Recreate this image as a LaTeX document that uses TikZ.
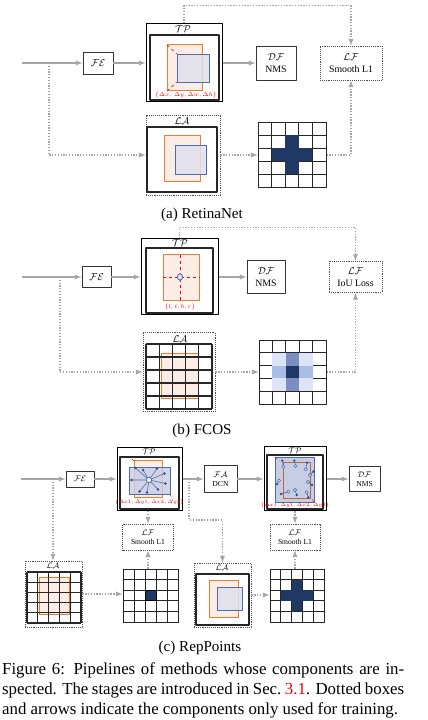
\documentclass[tikz,border=0pt]{standalone}
\usepackage{fontspec}
\setmainfont{Liberation Serif}
\definecolor{navy}{HTML}{1F3864}
\definecolor{heatmid}{HTML}{7A8EC2}
\definecolor{heatlight}{HTML}{A9BCE6}
\definecolor{heatpale}{HTML}{DCE4F5}
\definecolor{anchororange}{HTML}{ED7D31}
\definecolor{peach}{HTML}{FBEDE6}
\definecolor{boxblue}{HTML}{4A6DB0}
\definecolor{bluefill}{HTML}{DFE1EC}
\definecolor{pointfill}{HTML}{C6CDE4}
\definecolor{pointdot}{HTML}{2F4F8F}
\begin{document}
\begin{tikzpicture}[>=latex,line join=bevel,x=1bp,y=1bp,
  stagebox/.style={draw=black!80,line width=0.9bp,fill=white,inner sep=0pt,align=center,font=\fontsize{9.8bp}{11.4bp}\selectfont},
  smalltext/.style={font=\fontsize{7.6bp}{9bp}\selectfont},
  outerbox/.style={stagebox,draw=black,line width=1bp},
  trainbox/.style={stagebox,draw=black!70,densely dotted},
  stagename/.style={inner sep=0pt,font=\fontsize{9.8bp}{11bp}\selectfont},
  redtext/.style={text=red,inner sep=0pt,font=\fontsize{5.5bp}{6bp}\selectfont},
  tinyred/.style={redtext,font=\fontsize{4.1bp}{5bp}\selectfont},
  gridbox/.style={draw=black!85,line width=0.9bp,fill=white,inner sep=0pt},
  innerframe/.style={draw=black!85,line width=1.4bp},
  anchorbox/.style={draw=anchororange,line width=1bp,fill=peach},
  predbox/.style={draw=boxblue,line width=0.9bp,fill=bluefill,fill opacity=0.85},
  flowline/.style={draw=black!35,line width=1.3bp,->},
  trainline/.style={draw=black!35,line width=1.3bp,dash pattern=on 1.3bp off 1.5bp,->},
  subcap/.style={inner sep=0pt,font=\fontsize{15.1bp}{18bp}\selectfont}]
\fill [white] (0bp,0bp) rectangle (428bp,720bp);
\useasboundingbox (0bp,0bp) rectangle (428bp,720bp);
%% (a) RetinaNet
\coordinate (node_a0) at (22bp,657bp);
  \coordinate (node_a1) at (49bp,657bp);
  \node (node_a2) at (98bp,657bp) [stagebox,minimum width=30bp,minimum height=22bp] {$\mathcal{FE}$};
  \node (node_a3) at (184bp,657bp) [outerbox,minimum width=76bp,minimum height=78bp] {};
  \draw [innerframe] (150bp,685bp) rectangle (219bp,620bp);
  \node (node_a4) at (183bp,691bp) [stagename] {$\mathcal{TP}$};
  \draw [anchorbox] (167bp,675bp) rectangle (202bp,629bp);
  \draw [predbox] (177bp,666bp) rectangle (209bp,638bp);
  \draw [red,dashed,line width=0.6bp] (167bp,675bp) -- (177bp,666bp) (167bp,629bp) -- (177bp,638bp);
  \node (node_a5) at (186bp,624.5bp) [redtext] {$\{\Delta x,\ \Delta y, \Delta w, \Delta h\}$};
  \node (node_a6) at (276bp,657bp) [stagebox,minimum width=40bp,minimum height=34bp] {$\mathcal{DF}$\\NMS};
  \node (node_a7) at (351bp,657bp) [trainbox,minimum width=62bp,minimum height=34bp] {$\mathcal{LF}$\\Smooth L1};
  \node (node_a8) at (183bp,565bp) [trainbox,minimum width=74bp,minimum height=80bp] {};
  \node (node_a9) at (182bp,599bp) [stagename] {$\mathcal{LA}$};
  \draw [innerframe] (147bp,593bp) rectangle (217bp,528bp);
  \draw [anchorbox] (164bp,584bp) rectangle (200bp,538bp);
  \draw [predbox] (175bp,575bp) rectangle (206bp,546bp);
  \node (node_a10) at (292bp,565bp) [gridbox,minimum width=68bp,minimum height=65bp] {};
  \draw [flowline] (node_a0) -- (node_a2);
  \draw [flowline] (node_a2) -- (node_a3);
  \draw [flowline] (node_a3) -- (node_a6);
  \draw [trainline] (node_a1) |- (node_a8);
  \draw [trainline] (node_a8) -- (node_a10);
  \draw [trainline] (node_a10) -| (node_a7);
  \draw [trainline] (node_a3.north) -- ++(0,18bp) -| (node_a7);
  \node (node_a11) at (202bp,505.5bp) [subcap] {(a) RetinaNet};
%% (b) FCOS
\coordinate (node_b0) at (22bp,443bp);
  \coordinate (node_b1) at (60bp,443bp);
  \node (node_b2) at (96.5bp,443bp) [stagebox,minimum width=29bp,minimum height=21bp] {$\mathcal{FE}$};
  \node (node_b3) at (179.5bp,443bp) [outerbox,minimum width=77bp,minimum height=76bp] {};
  \draw [innerframe] (146bp,472bp) rectangle (213bp,407bp);
  \node (node_b4) at (180bp,477bp) [stagename] {$\mathcal{TP}$};
  \draw [anchorbox] (163bp,465bp) rectangle (199bp,419bp);
  \draw [red,dashed,line width=0.6bp] (180bp,465bp) -- (180bp,419bp) (163bp,443bp) -- (199bp,443bp);
  \filldraw [fill=bluefill,draw=boxblue,line width=0.8bp] (180bp,443bp) ellipse [x radius=2.6bp,y radius=3.2bp];
  \node (node_b5) at (180bp,413bp) [redtext] {$\{l, t, b, r\}$};
  \node (node_b6) at (266bp,443bp) [stagebox,minimum width=38bp,minimum height=33bp] {$\mathcal{DF}$\\NMS};
  \node (node_b7) at (355.5bp,443bp) [trainbox,minimum width=53bp,minimum height=31bp] {$\mathcal{LF}$\\IoU Loss};
  \node (node_b8) at (179bp,348bp) [trainbox,minimum width=72bp,minimum height=79bp] {};
  \node (node_b9) at (180bp,381bp) [stagename] {$\mathcal{LA}$};
  \draw [anchorbox] (161bp,366bp) rectangle (198bp,321bp);
  \node (node_b10) at (292.5bp,348bp) [gridbox,minimum width=67bp,minimum height=64bp] {};
  \draw [flowline] (node_b0) -- (node_b2);
  \draw [flowline] (node_b2) -- (node_b3);
  \draw [flowline] (node_b3) -- (node_b6);
  \draw [trainline] (node_b1) |- (node_b8);
  \draw [trainline] (node_b8) -- (node_b10);
  \draw [trainline] (node_b10) -| (node_b7);
  \draw [trainline] (node_b3.north) -- ++(0,11bp) -| (node_b7);
  \node (node_b11) at (202bp,289bp) [subcap] {(b) FCOS};
%% (c) RepPoints
\coordinate (node_c0) at (21bp,241bp);
  \coordinate (node_c1) at (53bp,241bp);
  \node (node_c2) at (80bp,241bp) [stagebox,smalltext,minimum width=28bp,minimum height=16bp] {$\mathcal{FE}$};
  \node (node_c3) at (149.5bp,241bp) [outerbox,minimum width=65bp,minimum height=63bp] {};
  \draw [innerframe,line width=1.2bp] (120bp,263bp) rectangle (179bp,211bp);
  \node (node_c4) at (149bp,268.5bp) [stagename,smalltext] {$\mathcal{TP}$};
  \draw [anchorbox] (134bp,259bp) rectangle (162bp,222bp);
  \draw [predbox,fill=pointfill,fill opacity=0.8] (129bp,253bp) rectangle (170bp,226bp);
  \draw [red,dashed,line width=0.5bp] (134bp,259bp) -- (130bp,263bp) (170bp,226bp) -- (173bp,219bp);
  \foreach \px/\py in {135.5/252, 157/251.5, 164.5/246.5, 165.5/236.5, 158/230.5, 147/227.5, 139.5/228.5, 131.5/240, 143/250} {
    \draw [boxblue,line width=0.6bp] (149bp,240bp) -- (\px,\py);
    \fill [pointdot] (\px,\py) circle [radius=1.3bp];
  }
  \filldraw [fill=white,draw=boxblue,line width=0.7bp] (149bp,240bp) circle [radius=2.6bp];
  \node (node_c5) at (149.5bp,217.5bp) [tinyred] {$\{\Delta x1, \Delta y1, \Delta x2, \Delta y2\}$};
  \coordinate (node_c6) at (189bp,241bp);
  \node (node_c7) at (220.5bp,241bp) [stagebox,smalltext,minimum width=33bp,minimum height=27bp] {$\mathcal{FA}$\\DCN};
  \node (node_c8) at (295bp,241bp) [outerbox,minimum width=62bp,minimum height=64bp] {};
  \draw [innerframe,line width=1.2bp] (267bp,265bp) rectangle (323bp,211bp);
  \node (node_c9) at (295bp,269bp) [stagename,smalltext] {$\mathcal{TP}$};
  \draw [predbox,fill=pointfill,fill opacity=1] (275bp,263bp) rectangle (314bp,218bp);
  \draw [draw=anchororange!80!black,line width=0.9bp] (283bp,258bp) rectangle (310bp,222bp);
  \draw [red,dashed,line width=0.5bp] (275bp,263bp) -- (280bp,259bp) (314bp,218bp) -- (311bp,222bp);
  \foreach \cx/\cy/\dx/\dy in {283.3/253.3/282.3/259.3, 295.7/254/294.3/259.3, 305.7/250.7/307/257.3, 310/245/313.5/248.5, 308/238/312/235, 306.7/227.7/308.3/222.7, 295/230/296.7/225, 288.3/228.3/281/226, 279/239.3/277/236} {
    \draw [boxblue,line width=0.6bp] (\cx,\cy) -- (\dx,\dy);
    \fill [pointdot] (\dx,\dy) circle [radius=1.3bp];
    \filldraw [fill=white,draw=boxblue,line width=0.6bp] (\cx,\cy) circle [radius=1.6bp];
  }
  \node (node_c10) at (295bp,215bp) [tinyred] {$\{\Delta x1, \Delta y1, \Delta x2, \Delta y2\}$};
  \node (node_c11) at (364.5bp,241bp) [stagebox,smalltext,minimum width=31bp,minimum height=25bp] {$\mathcal{DF}$\\NMS};
  \node (node_c12) at (148bp,183bp) [trainbox,smalltext,minimum width=51bp,minimum height=26bp] {$\mathcal{LF}$\\Smooth L1};
  \node (node_c13) at (295bp,183bp) [trainbox,smalltext,minimum width=50bp,minimum height=26bp] {$\mathcal{LF}$\\Smooth L1};
  \node (node_c14) at (53.5bp,126bp) [trainbox,minimum width=57bp,minimum height=66bp] {};
  \node (node_c15) at (53bp,154bp) [stagename,smalltext] {$\mathcal{LA}$};
  \draw [anchorbox] (39bp,142bp) rectangle (69bp,105bp);
  \node (node_c16) at (150.5bp,124.5bp) [gridbox,minimum width=55bp,minimum height=53bp] {};
  \node (node_c17) at (222.5bp,125bp) [trainbox,minimum width=57bp,minimum height=64bp] {};
  \node (node_c18) at (222bp,152bp) [stagename,smalltext] {$\mathcal{LA}$};
  \draw [innerframe] (196bp,146bp) rectangle (249bp,95bp);
  \draw [anchorbox] (209bp,139bp) rectangle (238bp,102bp);
  \draw [predbox] (217bp,133bp) rectangle (242bp,110bp);
  \node (node_c19) at (297bp,124.5bp) [gridbox,minimum width=54bp,minimum height=53bp] {};
  \draw [flowline] (node_c0) -- (node_c2);
  \draw [flowline] (node_c2) -- (node_c3);
  \draw [flowline] (node_c3) -- (node_c7);
  \draw [flowline] (node_c7) -- (node_c8);
  \draw [flowline] (node_c8) -- (node_c11);
  \draw [trainline] (node_c1) -- (node_c1 |- node_c14.north);
  \draw [trainline] (node_c6) -- ++(0,-41bp) -| (node_c17);
  \draw [trainline] (node_c12.north |- node_c3.south) -- (node_c12);
  \draw [trainline] (node_c12.south |- node_c16.north) -- (node_c12);
  \draw [trainline] (node_c8) -- (node_c13);
  \draw [trainline] (node_c13.south |- node_c19.north) -- (node_c13);
  \draw [trainline] (node_c14.east) -- (node_c14.east -| node_c16.west);
  \draw [trainline] (node_c17.east) -- (node_c17.east -| node_c19.west);
  \node (node_c20) at (200bp,72.5bp) [subcap] {(c) RepPoints};
%% grids
\foreach \gx/\gy/\gw/\gh/\lw in {258/532.5/68/65/0.9bp, 259/316/67/64/0.9bp, 146/311/66/65/1.3bp, 27/97/54/51/1.3bp, 123/98/55/53/0.9bp, 270/98/54/53/0.9bp} {
    \foreach \i in {0,...,5} {
      \draw [black!85,line width=\lw] (\gx+\i*\gw/5,\gy) -- ++(0,\gh);
      \draw [black!85,line width=\lw] (\gx,\gy+\i*\gh/5) -- ++(\gw,0);
    }
  }
  % assigned cells
  \fill [navy] (258+2*13.6,532.5+13) rectangle ++(13.6,39);
  \fill [navy] (258+13.6,532.5+26) rectangle ++(40.8,13);
  \foreach \c/\r/\col in {1/1/heatpale, 3/1/heatpale, 1/3/heatpale, 3/3/heatpale, 2/1/heatmid, 2/3/heatmid, 1/2/heatlight, 3/2/heatlight, 2/2/navy} {
    \fill [\col] (259+\c*13.4,316+\r*12.8) rectangle ++(13.4,12.8);
  }
  \fill [navy] (123+22,98+21.2) rectangle ++(11,10.6);
  \draw [black,line width=0.9bp] (123+22,98+21.2) rectangle ++(11,10.6);
  \fill [navy] (270+21.6,98+10.6) rectangle ++(10.8,31.8);
  \fill [navy] (270+10.8,98+21.2) rectangle ++(32.4,10.6);
%% caption
\node (node_d0) at (2bp,45bp) [anchor=base west,inner sep=0pt] {\parbox[t]{402bp}{\fontsize{16.83bp}{19.6bp}\selectfont Figure 6: Pipelines of methods whose components are in-\linebreak spected. The stages are introduced in Sec.~\textcolor{red}{3.1}. Dotted boxes\linebreak and arrows indicate the components only used for training.}};
%
\end{tikzpicture}
\end{document}
